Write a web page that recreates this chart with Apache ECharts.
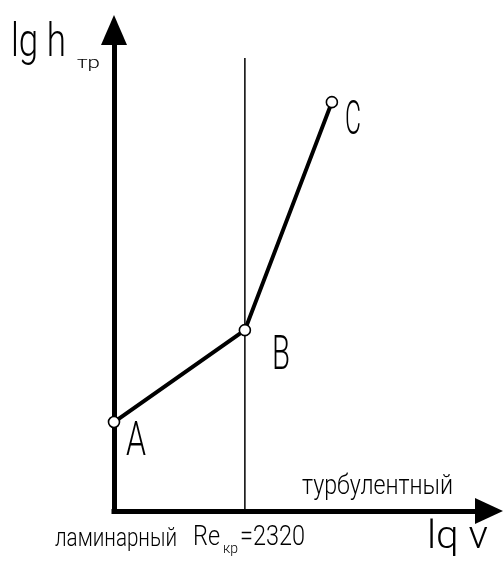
<!DOCTYPE html>
<html><head><meta charset="utf-8">
<script src="https://cdn.jsdelivr.net/npm/echarts@6/dist/echarts.min.js"></script>
<style>html,body{margin:0;padding:0;background:#fff}#c{width:504px;height:563px}</style>
</head><body><div id="c"></div>
<script>
// Data
const pointNames = ['A', 'B', 'C'];
const lgV = [0, 34.9, 58.1];
const lgH = [18.5, 37.6, 85.0];
const reCritX = 34.9;
const reLineTop = 94.2;
const yAxisTitle = ['lg h', 'тр'];
const xAxisTitle = 'lq v';
const regionLaminar = 'ламинарный';
const regionTurbulent = 'турбулентный';
const reLabel = ['Re', 'кр', '=2320'];

const FAM = 'Roboto, "DejaVu Sans", sans-serif';
const MID = 0.34; // em-middle above baseline

const mctx = document.createElement('canvas').getContext('2d');
function fontStr(fs) { return '300 ' + fs + 'px ' + FAM; }
function txt(text, left, baseline, fs, width) {
  mctx.font = fontStr(fs);
  const w = mctx.measureText(text).width;
  return {
    type: 'text', x: left, y: baseline - MID * fs, scaleX: width ? width / w : 1, silent: true,
    style: { text: text, font: fontStr(fs), fill: '#000', align: 'left', verticalAlign: 'middle' }
  };
}

const chart = echarts.init(document.getElementById('c'));
chart.setOption({
  animation: false,
  backgroundColor: '#fff',
  grid: { left: 114, right: 15, top: 30, bottom: 52 },
  xAxis: {
    type: 'value', min: 0, max: 100,
    axisLine: { show: true, onZero: false, symbol: ['none', 'triangle'], symbolSize: [26, 28],
      lineStyle: { color: '#000', width: 5, cap: 'square' } },
    axisTick: { show: false }, axisLabel: { show: false }, splitLine: { show: false }
  },
  yAxis: {
    type: 'value', min: 0, max: 100,
    axisLine: { show: true, onZero: false, symbol: ['none', 'triangle'], symbolSize: [26, 30],
      lineStyle: { color: '#000', width: 5, cap: 'square' } },
    axisTick: { show: false }, axisLabel: { show: false }, splitLine: { show: false }
  },
  series: [
    {
      type: 'line', silent: true, symbol: 'none',
      lineStyle: { color: '#000', width: 1.5 },
      data: [[reCritX, 0], [reCritX, reLineTop]], z: 1
    },
    {
      type: 'line', silent: true, symbol: 'circle', symbolSize: 11, showAllSymbol: true,
      lineStyle: { color: '#000', width: 4 },
      itemStyle: { color: '#fff', borderColor: '#000', borderWidth: 1.6 },
      data: lgV.map((v, i) => [v, lgH[i]]),
      z: 3
    }
  ]
});

// point labels placed from the data through the chart's scales
const labelOffsets = [[12, 37, 20], [27, 43, 18], [13, 36, 16]];
const graphics = lgV.map((v, i) => {
  const p = chart.convertToPixel({ seriesIndex: 1 }, [v, lgH[i]]);
  const o = labelOffsets[i];
  return txt(pointNames[i], p[0] + o[0], p[1] + o[1], 48, o[2]);
});
graphics.push(
  txt(yAxisTitle[0], 11, 60, 47, 55),
  txt(yAxisTitle[1], 77, 70, 17, 23),
  txt(regionTurbulent, 302, 497, 28, 151),
  txt(regionLaminar, 55, 548, 26, 122),
  txt(reLabel[0], 193, 548, 28, 27),
  txt(reLabel[1], 223, 554, 14, 15),
  txt(reLabel[2], 240, 548, 28, 65),
  txt(xAxisTitle, 427, 552, 39, 61)
);
chart.setOption({ graphic: graphics });
</script></body></html>
